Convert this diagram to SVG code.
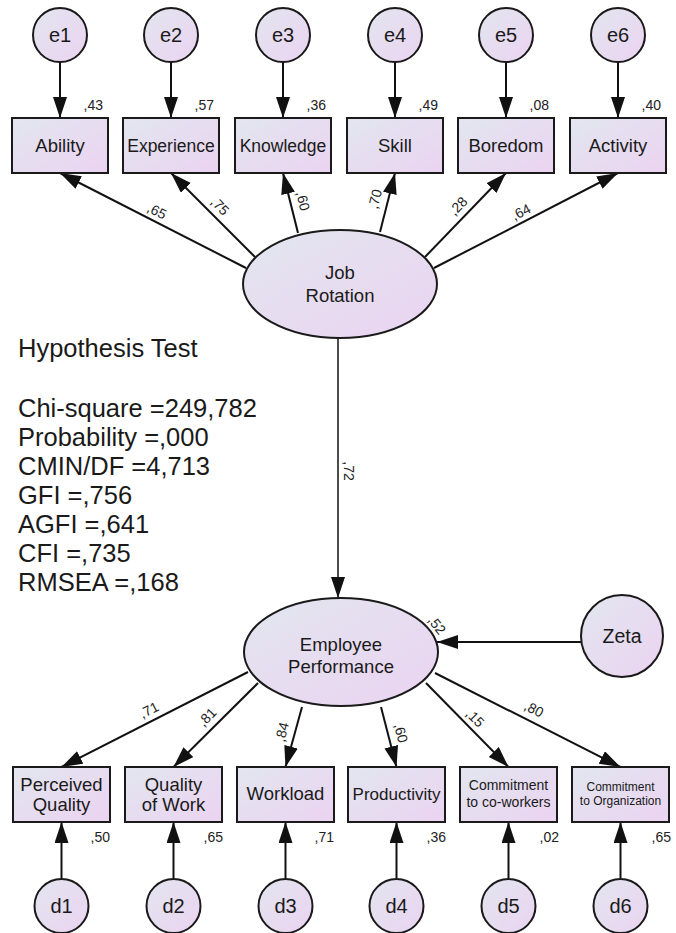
<svg xmlns="http://www.w3.org/2000/svg" width="676" height="933" viewBox="0 0 676 933">
  <defs>
    <linearGradient id="fill" x1="0" y1="0" x2="1" y2="1">
      <stop offset="0" stop-color="#e2e6ef"/>
      <stop offset="1" stop-color="#ebd3f1"/>
    </linearGradient>
    <marker id="arrow" markerUnits="userSpaceOnUse" markerWidth="22" markerHeight="16" refX="21" refY="7" orient="auto">
      <path d="M0,0 L21,7 L0,14 z" fill="#111"/>
    </marker>
  </defs>
  <style>
    .node { fill: url(#fill); stroke: #1a1a1a; stroke-width: 2; }
    .lbl { font-family: "Liberation Sans", Arial, sans-serif; fill: #1a1a1a; text-anchor: middle; }
    .r2 { font-family: "Liberation Sans", Arial, sans-serif; fill: #222; font-size: 14px; text-anchor: end; }
    .coef { font-family: "Liberation Sans", Arial, sans-serif; fill: #222; font-size: 14px; text-anchor: middle; }
    .fit { font-family: "Liberation Sans", Arial, sans-serif; fill: #1a1a1a; font-size: 25.5px; }
    .edge { stroke: #111; stroke-width: 2; fill: none; marker-end: url(#arrow); }
    .thin { stroke-width: 1.5; }
  </style>

  <!-- connectors -->
  <g id="connectors">
    <!-- error terms to indicators -->
    <line class="edge" x1="60" y1="62" x2="60" y2="118"/>
    <line class="edge" x1="171" y1="62" x2="171" y2="118"/>
    <line class="edge" x1="283" y1="62" x2="283" y2="118"/>
    <line class="edge" x1="395" y1="62" x2="395" y2="118"/>
    <line class="edge" x1="506" y1="62" x2="506" y2="118"/>
    <line class="edge" x1="618" y1="62" x2="618" y2="118"/>
    <!-- Job Rotation loadings -->
    <line class="edge" x1="246" y1="268" x2="60" y2="173"/>
    <line class="edge" x1="255" y1="257" x2="171" y2="173"/>
    <line class="edge" x1="298" y1="233" x2="283" y2="173"/>
    <line class="edge" x1="380" y1="232" x2="395" y2="173"/>
    <line class="edge" x1="425" y1="257" x2="506" y2="173"/>
    <line class="edge" x1="434" y1="268" x2="618" y2="173"/>
    <!-- structural path -->
    <line class="edge thin" x1="338" y1="338" x2="338" y2="598"/>
    <!-- disturbance -->
    <line class="edge" x1="581" y1="642" x2="437" y2="642"/>
    <!-- Employee Performance loadings -->
    <line class="edge" x1="248" y1="672" x2="61.5" y2="767"/>
    <line class="edge" x1="258" y1="683" x2="173.5" y2="767"/>
    <line class="edge" x1="302" y1="707" x2="285.5" y2="767"/>
    <line class="edge" x1="381" y1="707" x2="396.5" y2="767"/>
    <line class="edge" x1="426" y1="683" x2="508.5" y2="767"/>
    <line class="edge" x1="435" y1="673" x2="620.5" y2="767"/>
    <!-- residuals to indicators -->
    <line class="edge" x1="61.5" y1="878" x2="61.5" y2="822"/>
    <line class="edge" x1="173.5" y1="878" x2="173.5" y2="822"/>
    <line class="edge" x1="285.5" y1="878" x2="285.5" y2="822"/>
    <line class="edge" x1="396.5" y1="878" x2="396.5" y2="822"/>
    <line class="edge" x1="508.5" y1="878" x2="508.5" y2="822"/>
    <line class="edge" x1="620.5" y1="878" x2="620.5" y2="822"/>

    <!-- coefficients -->
    <text class="coef" transform="translate(157,211) rotate(27)" dy=".35em">,65</text>
    <text class="coef" transform="translate(220,206) rotate(46)" dy=".35em">,75</text>
    <text class="coef" transform="translate(303,201) rotate(77)" dy=".35em">,60</text>
    <text class="coef" transform="translate(375,199) rotate(-76)" dy=".35em">,70</text>
    <text class="coef" transform="translate(458,206) rotate(-46)" dy=".35em">,28</text>
    <text class="coef" transform="translate(521,212) rotate(-27)" dy=".35em">,64</text>
    <text class="coef" transform="translate(349,471) rotate(90)" dy=".35em">,72</text>
    <text class="coef" transform="translate(437,625) rotate(52)" dy=".35em">,52</text>
    <text class="coef" transform="translate(149,710) rotate(-27)" dy=".35em">,71</text>
    <text class="coef" transform="translate(207,717) rotate(-46)" dy=".35em">,81</text>
    <text class="coef" transform="translate(282,732) rotate(-76)" dy=".35em">,84</text>
    <text class="coef" transform="translate(401,733) rotate(76)" dy=".35em">,60</text>
    <text class="coef" transform="translate(475,718) rotate(45)" dy=".35em">,15</text>
    <text class="coef" transform="translate(534,709) rotate(27)" dy=".35em">,80</text>
  </g>

  <!-- error terms -->
  <g id="e1"><circle class="node" cx="60" cy="35" r="27"/><text class="lbl" x="60" y="42" font-size="20">e1</text></g>
  <g id="e2"><circle class="node" cx="171" cy="35" r="27"/><text class="lbl" x="171" y="42" font-size="20">e2</text></g>
  <g id="e3"><circle class="node" cx="283" cy="35" r="27"/><text class="lbl" x="283" y="42" font-size="20">e3</text></g>
  <g id="e4"><circle class="node" cx="395" cy="35" r="27"/><text class="lbl" x="395" y="42" font-size="20">e4</text></g>
  <g id="e5"><circle class="node" cx="506" cy="35" r="27"/><text class="lbl" x="506" y="42" font-size="20">e5</text></g>
  <g id="e6"><circle class="node" cx="618" cy="35" r="27"/><text class="lbl" x="618" y="42" font-size="20">e6</text></g>

  <!-- Job Rotation indicators -->
  <g id="ability"><rect class="node" x="12" y="118" width="96" height="55"/><text class="lbl" x="60" y="152" font-size="18.5">Ability</text><text class="r2" x="103" y="110">,43</text></g>
  <g id="experience"><rect class="node" x="123" y="118" width="96" height="55"/><text class="lbl" x="171" y="152" font-size="17.5">Experience</text><text class="r2" x="214" y="110">,57</text></g>
  <g id="knowledge"><rect class="node" x="235" y="118" width="96" height="55"/><text class="lbl" x="283" y="152" font-size="17.5">Knowledge</text><text class="r2" x="326" y="110">,36</text></g>
  <g id="skill"><rect class="node" x="347" y="118" width="96" height="55"/><text class="lbl" x="395" y="152" font-size="18.5">Skill</text><text class="r2" x="438" y="110">,49</text></g>
  <g id="boredom"><rect class="node" x="458" y="118" width="96" height="55"/><text class="lbl" x="506" y="152" font-size="18.5">Boredom</text><text class="r2" x="549" y="110">,08</text></g>
  <g id="activity"><rect class="node" x="570" y="118" width="96" height="55"/><text class="lbl" x="618" y="152" font-size="18.5">Activity</text><text class="r2" x="661" y="110">,40</text></g>

  <!-- latent variables -->
  <g id="job-rotation"><ellipse class="node" cx="340" cy="284" rx="97" ry="54"/><text class="lbl" x="340" y="279" font-size="18.5">Job</text><text class="lbl" x="340" y="302" font-size="18.5">Rotation</text></g>
  <g id="employee-performance"><ellipse class="node" cx="341" cy="652" rx="97" ry="54"/><text class="lbl" x="341" y="651" font-size="18.5">Employee</text><text class="lbl" x="341" y="673" font-size="18.5">Performance</text></g>
  <g id="zeta"><circle class="node" cx="622" cy="636" r="41"/><text class="lbl" x="622" y="643" font-size="19.5">Zeta</text></g>

  <!-- fit statistics -->
  <g id="fit-indices">
    <text class="fit" x="18" y="357">Hypothesis Test</text>
    <text class="fit" x="18" y="417">Chi-square =249,782</text>
    <text class="fit" x="18" y="446">Probability =,000</text>
    <text class="fit" x="18" y="475">CMIN/DF =4,713</text>
    <text class="fit" x="18" y="504">GFI =,756</text>
    <text class="fit" x="18" y="533">AGFI =,641</text>
    <text class="fit" x="18" y="562">CFI =,735</text>
    <text class="fit" x="18" y="591">RMSEA =,168</text>
  </g>

  <!-- Employee Performance indicators -->
  <g id="perceived-quality"><rect class="node" x="13" y="767" width="97" height="55"/><text class="lbl" x="61.5" y="791" font-size="18.5">Perceived</text><text class="lbl" x="61.5" y="811" font-size="18.5">Quality</text><text class="r2" x="110" y="842">,50</text></g>
  <g id="quality-of-work"><rect class="node" x="125" y="767" width="97" height="55"/><text class="lbl" x="173.5" y="791" font-size="18.5">Quality</text><text class="lbl" x="173.5" y="811" font-size="18.5">of Work</text><text class="r2" x="223" y="842">,65</text></g>
  <g id="workload"><rect class="node" x="237" y="767" width="97" height="55"/><text class="lbl" x="285.5" y="800" font-size="18.5">Workload</text><text class="r2" x="334" y="842">,71</text></g>
  <g id="productivity"><rect class="node" x="348" y="767" width="97" height="55"/><text class="lbl" x="396.5" y="800" font-size="17">Productivity</text><text class="r2" x="446" y="842">,36</text></g>
  <g id="commitment-coworkers"><rect class="node" x="460" y="767" width="97" height="55"/><text class="lbl" x="508.5" y="790" font-size="14">Commitment</text><text class="lbl" x="508.5" y="807" font-size="14">to co-workers</text><text class="r2" x="559" y="842">,02</text></g>
  <g id="commitment-organization"><rect class="node" x="572" y="767" width="97" height="55"/><text class="lbl" x="620.5" y="791" font-size="12">Commitment</text><text class="lbl" x="620.5" y="805" font-size="12">to Organization</text><text class="r2" x="671" y="842">,65</text></g>

  <!-- residuals -->
  <g id="d1"><circle class="node" cx="61.5" cy="906" r="27"/><text class="lbl" x="61.5" y="913" font-size="20">d1</text></g>
  <g id="d2"><circle class="node" cx="173.5" cy="906" r="27"/><text class="lbl" x="173.5" y="913" font-size="20">d2</text></g>
  <g id="d3"><circle class="node" cx="285.5" cy="906" r="27"/><text class="lbl" x="285.5" y="913" font-size="20">d3</text></g>
  <g id="d4"><circle class="node" cx="396.5" cy="906" r="27"/><text class="lbl" x="396.5" y="913" font-size="20">d4</text></g>
  <g id="d5"><circle class="node" cx="508.5" cy="906" r="27"/><text class="lbl" x="508.5" y="913" font-size="20">d5</text></g>
  <g id="d6"><circle class="node" cx="620.5" cy="906" r="27"/><text class="lbl" x="620.5" y="913" font-size="20">d6</text></g>
</svg>
